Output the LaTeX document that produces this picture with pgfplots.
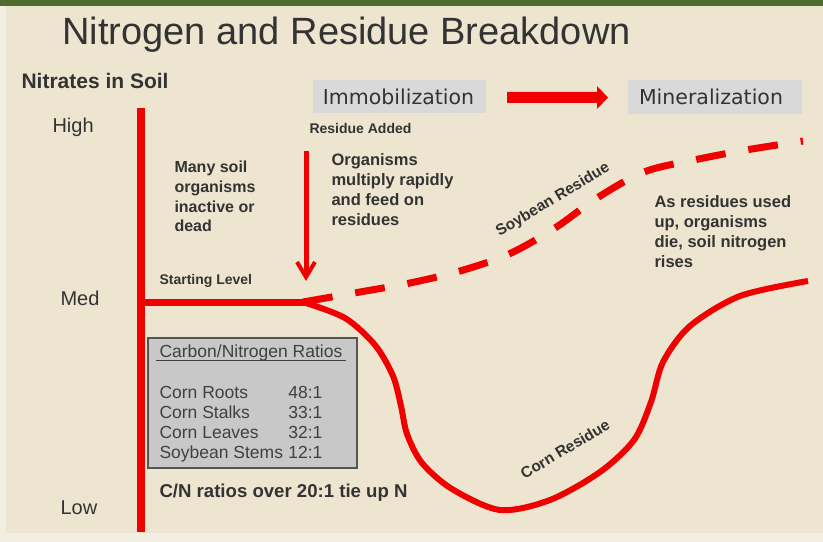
\documentclass[border=0pt]{standalone}
\usepackage{pgfplots}
\pgfplotsset{compat=1.18}
\usepackage{fontspec}
\setmainfont{Liberation Sans}
\newfontfamily\dv{DejaVu Sans}
\definecolor{bg}{RGB}{237,229,207}
\definecolor{bglight}{RGB}{243,238,226}
\definecolor{topgreen}{RGB}{79,107,45}
\definecolor{myred}{RGB}{240,0,0}
\definecolor{txt}{RGB}{51,51,51}
\definecolor{boxtxt}{RGB}{64,64,64}
\definecolor{lightbox}{RGB}{217,217,217}
\definecolor{cnbox}{RGB}{200,200,200}
\definecolor{cnborder}{RGB}{85,85,85}
\newcommand{\fs}[1]{\fontsize{#1bp}{#1bp}\selectfont}
\begin{document}
\begin{tikzpicture}
\begin{axis}[
  width=823bp, height=542bp, scale only axis,
  xmin=0, xmax=823, ymin=0, ymax=542, y dir=reverse,
  axis lines=none, clip=false,
  every node/.append style={inner sep=0pt, outer sep=0pt},
]
% background
\fill[bg] (axis cs:0,0) rectangle (axis cs:823,542);
\fill[bglight] (axis cs:0,6) rectangle (axis cs:6,542);
\fill[bglight] (axis cs:0,533) rectangle (axis cs:823,542);
\fill[topgreen] (axis cs:0,0) rectangle (axis cs:823,6);

% title
\node[anchor=base west, txt, font=\fs{38}] at (axis cs:59,45) {Nitrogen and Residue Breakdown};
\node[anchor=base west, txt, font=\fs{21}\bfseries] at (axis cs:18,89) {Nitrates in Soil};
\node[anchor=base west, txt, font=\fs{20}] at (axis cs:49,132) {High};
\node[anchor=base west, txt, font=\fs{20}] at (axis cs:57,305) {Med};
\node[anchor=base west, txt, font=\fs{20}] at (axis cs:57,514) {Low};

% phase boxes
\fill[lightbox] (axis cs:313,80) rectangle (axis cs:486,113);
\fill[lightbox] (axis cs:628,80) rectangle (axis cs:802,114);
\node[anchor=base, txt, font=\dv\fs{20.5}] at (axis cs:398.5,104) {Immobilization};
\node[anchor=base, txt, font=\dv\fs{20.5}] at (axis cs:711,104) {Mineralization};
\fill[myred] (axis cs:507,92) -- (axis cs:597,92) -- (axis cs:597,86) -- (axis cs:608,97.5)
  -- (axis cs:597,109) -- (axis cs:597,103) -- (axis cs:507,103) -- cycle;

% texts
\node[anchor=base west, txt, font=\fs{14}\bfseries] at (axis cs:306,133) {Residue Added};
\node[anchor=base west, txt, font=\fs{14}\bfseries] at (axis cs:156,284) {Starting Level};
\foreach \t/\y in {Many soil/172, organisms/192, inactive or/212, dead/231}{
  \edef\tmp{\noexpand\node[anchor=base west, txt, font=\noexpand\fs{16}\noexpand\bfseries] at (axis cs:171,\y) {\t};}\tmp
}
\foreach \t/\y in {Organisms/165, multiply rapidly/185, and feed on/205, residues/225}{
  \edef\tmp{\noexpand\node[anchor=base west, txt, font=\noexpand\fs{16.5}\noexpand\bfseries] at (axis cs:328,\y) {\t};}\tmp
}
\foreach \t/\y in {As residues used/207, {up, organisms}/227, {die, soil nitrogen}/247, rises/267}{
  \edef\tmp{\noexpand\node[anchor=base west, txt, font=\noexpand\fs{16.5}\noexpand\bfseries] at (axis cs:651,\y) {\t};}\tmp
}

% down arrow
\draw[myred, line width=5bp] (axis cs:306,151) -- (axis cs:306,274);
\draw[myred, line width=4bp, miter limit=10] (axis cs:297,262) -- (axis cs:306,277) -- (axis cs:315,262);

% axes lines of the diagram
\addplot[myred, line width=8bp] coordinates {(141,108) (141,532)};
\addplot[myred, line width=7bp] coordinates {(141,302) (306,302)};

% corn residue curve
\addplot[myred, line width=6bp, smooth, tension=0.5] coordinates {
 (303,302) (345,318) (375,345) (393,376) (401,406) (407,434) (422,463)
 (452,489) (500,510) (550,500) (600,472) (634,440) (651,402) (663,362)
 (690,326) (740,296) (808,281)};

% soybean residue curve
\addplot[myred, line width=7bp, smooth, tension=0.55, dash pattern=on 30bp off 23bp] coordinates {
 (303,302) (360,292) (410,283) (460,271) (509,254) (555,228) (597,198)
 (644,172) (694,160) (746,150) (803,141)};

\node[txt, font=\fs{15.5}\bfseries, rotate=31] at (axis cs:553,200) {Soybean Residue};
\node[txt, font=\fs{15.5}\bfseries, rotate=31] at (axis cs:565,449) {Corn Residue};

% C/N box
\filldraw[fill=cnbox, draw=cnborder, line width=2bp] (axis cs:148,338) rectangle (axis cs:357,468);
\node[anchor=base west, boxtxt, font=\fs{17.5}] (cnt) at (axis cs:156,357) {Carbon/Nitrogen Ratios};
\draw[boxtxt, line width=1.2bp] ([yshift=-3.5bp]cnt.base west) -- ([yshift=-3.5bp]cnt.base east);
\foreach \n/\r/\y in {Corn Roots/48:1/398, Corn Stalks/33:1/418, Corn Leaves/32:1/438, Soybean Stems/12:1/458}{
  \edef\tmp{\noexpand\node[anchor=base west, boxtxt, font=\noexpand\fs{17.5}] at (axis cs:156,\y) {\n};
  \noexpand\node[anchor=base east, boxtxt, font=\noexpand\fs{17.5}] at (axis cs:326,\y) {\r};}\tmp
}
\node[anchor=base west, txt, font=\fs{18.6}\bfseries] at (axis cs:156,497) {C/N ratios over 20:1 tie up N};
\end{axis}
\end{tikzpicture}
\end{document}
